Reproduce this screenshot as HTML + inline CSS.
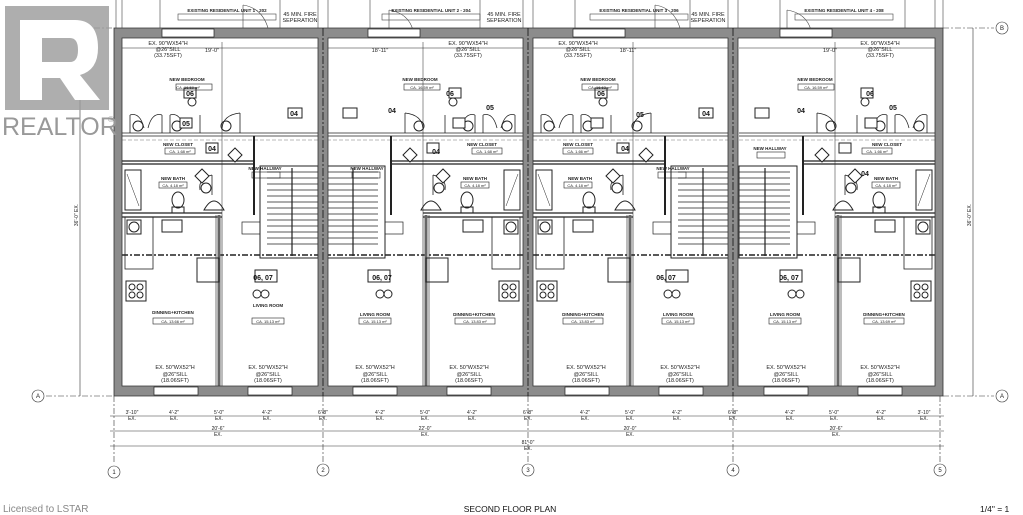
<!DOCTYPE html>
<html><head><meta charset="utf-8"><style>
html,body{margin:0;padding:0;background:#fff;}
svg{display:block;font-family:"Liberation Sans",sans-serif;}
.t{font-size:5px;fill:#222;text-anchor:middle;}
.tb{font-size:4.5px;fill:#222;text-anchor:middle;font-weight:bold;}
.tag{font-size:7px;fill:#111;text-anchor:middle;font-weight:bold;}
</style></head><body>
<svg width="1023" height="515" viewBox="0 0 1023 515" xmlns="http://www.w3.org/2000/svg">
<defs>
<g id="unit" fill="none" stroke="#222" stroke-width="1">
  <!-- bedroom partition -->
  <path d="M0 133 H196 M0 136 H196" stroke-width="0.8"/>
  <path d="M0 140 H196" stroke-dasharray="4 2" stroke="#777" stroke-width="0.6"/>
  <!-- closet/bath -->
  <path d="M0 161 H132 M0 164 H132" stroke-width="1.2"/>
  <path d="M132 136 V215" stroke-width="2"/>
  <path d="M0 213 H100 M0 217 H100" stroke-width="1.2"/>
  <path d="M0 255 H196" stroke-dasharray="6 2 2 2" stroke-width="1.5"/>
  <path d="M97 215 V386" stroke-width="3" stroke="#666"/>
  <path d="M94 215 V386 M100 215 V386" stroke-width="0.6"/>
  <!-- bath fixtures -->
  <rect x="3" y="170" width="16" height="40"/>
  <path d="M5 174 L17 206" stroke-width="0.5"/>
  <ellipse cx="56" cy="200" rx="6" ry="8"/>
  <rect x="50" y="207" width="12" height="6"/>
  <path d="M82 210 Q92 192 102 210 Z"/>
  <!-- stairs -->
  <rect x="138" y="166" width="58" height="92" stroke-width="1"/>
  <path d="M145 172 H196 M145 178 H196 M145 184 H196 M145 190 H196 M145 196 H196 M145 202 H196 M145 208 H196 M145 214 H196 M145 220 H196 M145 226 H196 M145 232 H196 M145 238 H196 M145 244 H196" stroke-width="0.7"/>
  <path d="M170 168 V256" stroke-width="1.2"/>
  <rect x="120" y="222" width="18" height="12" stroke-width="0.7"/>
  <!-- kitchen -->
  <rect x="3" y="217" width="28" height="52" stroke-width="0.8"/>
  <rect x="5" y="220" width="14" height="14"/>
  <circle cx="12" cy="227" r="5"/>
  <rect x="40" y="220" width="20" height="12"/>
  <rect x="75" y="258" width="22" height="24"/>
  <rect x="4" y="281" width="20" height="20"/>
  <circle cx="10" cy="287" r="3"/><circle cx="18" cy="287" r="3"/><circle cx="10" cy="295" r="3"/><circle cx="18" cy="295" r="3"/>
  <!-- doors -->
  <path d="M8 115 V133 M8 115 Q18 112 22 128 M40 115 V133 M40 115 Q30 112 26 128" stroke-width="0.8"/>
  <path d="M48 115 V133 M48 115 Q58 112 62 128 M78 115 V133" stroke-width="0.8"/>
  <path d="M118 113 V133 M118 113 Q100 115 100 130" stroke-width="0.8"/>
  <circle cx="16" cy="126" r="5"/><circle cx="55" cy="126" r="5"/><circle cx="104" cy="126" r="5"/>
  <path d="M90 175 Q76 178 78 190 M90 175 V195" stroke-width="0.8"/>
  <circle cx="84" cy="188" r="5"/>
  <!-- smoke detectors -->
  <circle cx="135" cy="294" r="4"/><circle cx="143" cy="294" r="4"/>
  <circle cx="70" cy="102" r="4"/>
  <!-- tags -->
  <rect x="62" y="88" width="12" height="10" fill="#fff"/>
  <rect x="58" y="118" width="12" height="10" fill="#fff"/>
  <rect x="166" y="108" width="14" height="10" fill="#fff"/>
  <rect x="84" y="143" width="12" height="10" fill="#fff"/>
  <rect x="133" y="270" width="22" height="12" fill="#fff"/>
  <path d="M106 155 l7 -7 l7 7 l-7 7 z" fill="#fff"/>
  <path d="M73 176 l7 -7 l7 7 l-7 7 z" fill="#fff"/>
  <!-- top window -->
  <path d="M40 34 H92 M40 37 H92" stroke-width="0.6"/>
  <!-- bottom windows -->
  <path d="M32 390 H76 M126 390 H170" stroke-width="1.2"/>
  <!-- dim lines -->
  <path d="M0 48 H196" stroke-width="0.5"/>
  <path d="M100 42 V215" stroke-width="0.5"/>
</g>
</defs>
<!-- existing units above -->
<g stroke="#444" stroke-width="0.6" fill="none">
  <path d="M116 0 V28 M122 0 V28 M318 0 V28 M328 0 V28 M523 0 V28 M533 0 V28 M728 0 V28 M738 0 V28 M935 0 V28 M943 0 V28"/>
  <path d="M160 0 V28 M280 0 V28 M370 0 V28 M480 0 V28 M575 0 V28 M690 0 V28 M780 0 V28 M905 0 V28"/>
  <rect x="178" y="14" width="98" height="6"/><rect x="382" y="14" width="98" height="6"/><rect x="590" y="14" width="98" height="6"/><rect x="795" y="14" width="98" height="6"/>
  <path d="M243 5 V36 M243 5 Q262 8 268 28 M389 10 V36 M389 10 Q408 13 413 30 M655 5 V36 M655 5 Q674 8 680 28 M787 10 V36 M787 10 Q806 13 811 30"/>
</g>
<g class="tb">
<text x="227" y="12">EXISTING RESIDENTIAL UNIT 1 - 202</text>
<text x="431" y="12">EXISTING RESIDENTIAL UNIT 2 - 204</text>
<text x="639" y="12">EXISTING RESIDENTIAL UNIT 3 - 206</text>
<text x="844" y="12">EXISTING RESIDENTIAL UNIT 4 - 208</text>
</g>
<g class="t" style="font-size:5.5px">
<text x="300" y="16">45 MIN. FIRE</text><text x="300" y="22">SEPERATION</text>
<text x="504" y="16">45 MIN. FIRE</text><text x="504" y="22">SEPERATION</text>
<text x="708" y="16">45 MIN. FIRE</text><text x="708" y="22">SEPERATION</text>
</g>
<!-- units linework -->
<use href="#unit" transform="translate(122,0)"/>
<use href="#unit" transform="translate(523,0) scale(-1,1)"/>
<use href="#unit" transform="translate(533,0)"/>
<use href="#unit" transform="translate(935,0) scale(-1,1)"/>
<!-- walls -->
<g fill="#8c8c8c" stroke="#333" stroke-width="0.8">
  <path d="M114 28 H943 V396 H114 Z M122 38 V386 H318 V38 Z M328 38 V386 H523 V38 Z M533 38 V386 H728 V38 Z M738 38 V386 H935 V38 Z" fill-rule="evenodd"/>
</g>
<g fill="#fff" stroke="#222" stroke-width="0.7">
  <rect x="162" y="29" width="52" height="8"/><rect x="368" y="29" width="52" height="8"/>
  <rect x="573" y="29" width="52" height="8"/><rect x="780" y="29" width="52" height="8"/>
  <rect x="154" y="387" width="44" height="8"/><rect x="248" y="387" width="44" height="8"/>
  <rect x="353" y="387" width="44" height="8"/><rect x="447" y="387" width="44" height="8"/>
  <rect x="565" y="387" width="44" height="8"/><rect x="659" y="387" width="44" height="8"/>
  <rect x="764" y="387" width="44" height="8"/><rect x="858" y="387" width="44" height="8"/>
</g>
<path d="M323 28 V396 M528 28 V396 M733 28 V396" stroke="#111" stroke-width="0.8" stroke-dasharray="8 2 2 2"/>
<!-- room labels -->
<g class="tb">
<text x="187" y="81">NEW BEDROOM</text><text x="420" y="81">NEW BEDROOM</text><text x="598" y="81">NEW BEDROOM</text><text x="815" y="81">NEW BEDROOM</text>
<text x="178" y="146">NEW CLOSET</text><text x="482" y="146">NEW CLOSET</text><text x="578" y="146">NEW CLOSET</text><text x="887" y="146">NEW CLOSET</text>
<text x="173" y="180">NEW BATH</text><text x="475" y="180">NEW BATH</text><text x="580" y="180">NEW BATH</text><text x="886" y="180">NEW BATH</text>
<text x="265" y="170">NEW HALLWAY</text><text x="367" y="170">NEW HALLWAY</text><text x="673" y="170">NEW HALLWAY</text><text x="770" y="150">NEW HALLWAY</text>
<text x="173" y="314">DINNING+KITCHEN</text><text x="268" y="307">LIVING ROOM</text>
<text x="375" y="316">LIVING ROOM</text><text x="474" y="316">DINNING+KITCHEN</text>
<text x="583" y="316">DINNING+KITCHEN</text><text x="678" y="316">LIVING ROOM</text>
<text x="785" y="316">LIVING ROOM</text><text x="884" y="316">DINNING+KITCHEN</text>
</g>
<g fill="none" stroke="#222" stroke-width="0.6">
<rect x="176" y="84" width="36" height="6"/><rect x="404" y="84" width="36" height="6"/><rect x="582" y="84" width="36" height="6"/><rect x="798" y="84" width="36" height="6"/>
<rect x="165" y="148" width="30" height="6"/><rect x="472" y="148" width="30" height="6"/><rect x="563" y="148" width="30" height="6"/><rect x="862" y="148" width="30" height="6"/>
<rect x="159" y="182" width="28" height="6"/><rect x="461" y="182" width="28" height="6"/><rect x="564" y="182" width="28" height="6"/><rect x="872" y="182" width="28" height="6"/>
<rect x="252" y="172" width="28" height="6"/><rect x="352" y="172" width="28" height="6"/><rect x="658" y="172" width="28" height="6"/><rect x="757" y="152" width="28" height="6"/>
<rect x="153" y="318" width="40" height="6"/><rect x="252" y="318" width="32" height="6"/><rect x="359" y="318" width="32" height="6"/><rect x="455" y="318" width="40" height="6"/>
<rect x="563" y="318" width="40" height="6"/><rect x="662" y="318" width="32" height="6"/><rect x="769" y="318" width="32" height="6"/><rect x="864" y="318" width="40" height="6"/>
</g>
<g class="t" style="font-size:4px">
<text x="188" y="89">CA.     16.59 m²</text><text x="422" y="89">CA.     16.59 m²</text><text x="600" y="89">CA.     16.63 m²</text><text x="816" y="89">CA.     16.59 m²</text>
<text x="180" y="153">CA.  1.68 m²</text><text x="487" y="153">CA.  1.68 m²</text><text x="578" y="153">CA.  1.66 m²</text><text x="877" y="153">CA.  1.66 m²</text>
<text x="173" y="187">CA. 4.18 m²</text><text x="475" y="187">CA. 4.18 m²</text><text x="578" y="187">CA. 4.18 m²</text><text x="886" y="187">CA. 4.18 m²</text>
<text x="173" y="323">CA.     13.66 m²</text><text x="268" y="323">CA. 15.13 m²</text><text x="375" y="323">CA. 15.13 m²</text><text x="475" y="323">CA.     13.83 m²</text>
<text x="583" y="323">CA.     13.83 m²</text><text x="678" y="323">CA. 15.13 m²</text><text x="785" y="323">CA. 15.13 m²</text><text x="884" y="323">CA.     13.69 m²</text>
</g>
<!-- windows text -->
<g class="t" style="font-size:5.5px">
<text x="168" y="45">EX. 90"WX54"H</text><text x="168" y="51">@26"SILL</text><text x="168" y="57">(33.75SFT)</text>
<text x="468" y="45">EX. 90"WX54"H</text><text x="468" y="51">@26"SILL</text><text x="468" y="57">(33.75SFT)</text>
<text x="578" y="45">EX. 90"WX54"H</text><text x="578" y="51">@26"SILL</text><text x="578" y="57">(33.75SFT)</text>
<text x="880" y="45">EX. 90"WX54"H</text><text x="880" y="51">@26"SILL</text><text x="880" y="57">(33.75SFT)</text>
<text x="212" y="52">19'-0"</text><text x="380" y="52">18'-11"</text><text x="628" y="52">18'-11"</text><text x="830" y="52">19'-0"</text>
</g>
<g class="t" style="font-size:5.5px">
<text x="175" y="369">EX. 50"WX52"H</text><text x="175" y="376">@26"SILL</text><text x="175" y="382">(18.06SFT)</text>
<text x="268" y="369">EX. 50"WX52"H</text><text x="268" y="376">@26"SILL</text><text x="268" y="382">(18.06SFT)</text>
<text x="375" y="369">EX. 50"WX52"H</text><text x="375" y="376">@26"SILL</text><text x="375" y="382">(18.06SFT)</text>
<text x="469" y="369">EX. 50"WX52"H</text><text x="469" y="376">@26"SILL</text><text x="469" y="382">(18.06SFT)</text>
<text x="586" y="369">EX. 50"WX52"H</text><text x="586" y="376">@26"SILL</text><text x="586" y="382">(18.06SFT)</text>
<text x="680" y="369">EX. 50"WX52"H</text><text x="680" y="376">@26"SILL</text><text x="680" y="382">(18.06SFT)</text>
<text x="786" y="369">EX. 50"WX52"H</text><text x="786" y="376">@26"SILL</text><text x="786" y="382">(18.06SFT)</text>
<text x="880" y="369">EX. 50"WX52"H</text><text x="880" y="376">@26"SILL</text><text x="880" y="382">(18.06SFT)</text>
</g>
<g class="tag">
<text x="263" y="280">06, 07</text><text x="382" y="280">06, 07</text><text x="666" y="280">06, 07</text><text x="789" y="280">06, 07</text>
<text x="190" y="96">06</text><text x="186" y="126">05</text><text x="294" y="116">04</text><text x="212" y="151">04</text>
<text x="450" y="96">06</text><text x="490" y="110">05</text><text x="392" y="113">04</text><text x="436" y="154">04</text>
<text x="601" y="96">06</text><text x="640" y="117">05</text><text x="706" y="116">04</text><text x="625" y="151">04</text>
<text x="870" y="96">06</text><text x="893" y="110">05</text><text x="801" y="113">04</text><text x="865" y="176">04</text>
</g>
<!-- grid lines & dims -->
<g stroke="#333" stroke-width="0.6" fill="none">
  <path d="M46 28 H114 M943 28 H994 M46 396 H114 M943 396 H994" stroke-dasharray="6 2 2 2"/>
  <path d="M80 28 V396 M973 28 V396"/>
  <path d="M114 396 V463 M323 396 V463 M528 396 V463 M733 396 V463 M940 396 V463" stroke-dasharray="6 2 2 2"/>
  <path d="M110 416 H944 M110 431 H944 M110 446 H944"/>
  <circle cx="38" cy="28" r="6"/><circle cx="1002" cy="28" r="6"/>
  <circle cx="38" cy="396" r="6"/><circle cx="1002" cy="396" r="6"/>
  <circle cx="114" cy="472" r="6"/><circle cx="323" cy="470" r="6"/><circle cx="528" cy="470" r="6"/><circle cx="733" cy="470" r="6"/><circle cx="940" cy="470" r="6"/>
</g>
<g class="t" style="font-size:6px">
<text x="38" y="30">B</text><text x="1002" y="30">B</text><text x="38" y="398">A</text><text x="1002" y="398">A</text>
<text x="114" y="474">1</text><text x="323" y="472">2</text><text x="528" y="472">3</text><text x="733" y="472">4</text><text x="940" y="472">5</text>
</g>
<g class="t" style="font-size:5px">
<text x="132" y="414">3'-10"</text><text x="132" y="420">EX.</text>
<text x="174" y="414">4'-2"</text><text x="174" y="420">EX.</text>
<text x="219" y="414">5'-0"</text><text x="219" y="420">EX.</text>
<text x="267" y="414">4'-2"</text><text x="267" y="420">EX.</text>
<text x="323" y="414">6'-8"</text><text x="323" y="420">EX.</text>
<text x="380" y="414">4'-2"</text><text x="380" y="420">EX.</text>
<text x="425" y="414">5'-0"</text><text x="425" y="420">EX.</text>
<text x="472" y="414">4'-2"</text><text x="472" y="420">EX.</text>
<text x="528" y="414">6'-8"</text><text x="528" y="420">EX.</text>
<text x="585" y="414">4'-2"</text><text x="585" y="420">EX.</text>
<text x="630" y="414">5'-0"</text><text x="630" y="420">EX.</text>
<text x="677" y="414">4'-2"</text><text x="677" y="420">EX.</text>
<text x="733" y="414">6'-8"</text><text x="733" y="420">EX.</text>
<text x="790" y="414">4'-2"</text><text x="790" y="420">EX.</text>
<text x="834" y="414">5'-0"</text><text x="834" y="420">EX.</text>
<text x="881" y="414">4'-2"</text><text x="881" y="420">EX.</text>
<text x="924" y="414">3'-10"</text><text x="924" y="420">EX.</text>
<text x="218" y="430">20'-6"</text><text x="218" y="436">EX.</text>
<text x="425" y="430">22'-0"</text><text x="425" y="436">EX.</text>
<text x="630" y="430">20'-0"</text><text x="630" y="436">EX.</text>
<text x="836" y="430">20'-6"</text><text x="836" y="436">EX.</text>
<text x="528" y="444">81'-0"</text><text x="528" y="450">EX.</text>
<text transform="translate(78,215) rotate(-90)">36'-0" EX.</text>
<text transform="translate(971,215) rotate(-90)">36'-0" EX.</text>
</g>
<!-- REALTOR logo -->
<rect x="5" y="6" width="104" height="104" fill="#9a9a9a" opacity="0.8"/>
<path d="M20 20 H75 Q98 20 98 48 Q98 70 80 75 L100 100 H75 L60 78 H42 V100 H20 Z M42 38 V62 H70 Q78 62 78 50 Q78 38 70 38 Z" fill="#fff" fill-rule="evenodd"/>
<text x="2" y="135" style="font-size:25px;fill:#999" font-family="Liberation Sans, sans-serif">REALTOR</text>
<text x="108" y="122" style="font-size:8px;fill:#999">®</text>
<!-- footer -->
<text x="3" y="512" style="font-size:10px;fill:#888">Licensed to LSTAR</text>
<text x="510" y="512" style="font-size:8.5px;fill:#111;text-anchor:middle">SECOND FLOOR PLAN</text>
<text x="980" y="512" style="font-size:8.5px;fill:#111">1/4" = 1</text>
</svg>
</body></html>
